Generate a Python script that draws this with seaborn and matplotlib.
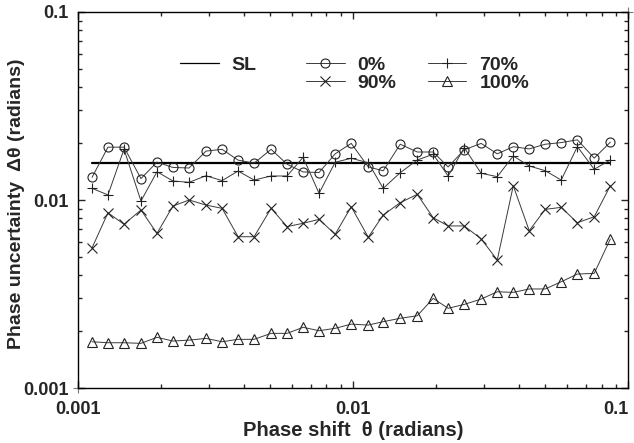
import numpy as np
import pandas as pd
import seaborn as sns
import matplotlib.pyplot as plt
from matplotlib.lines import Line2D

# phase shift values (radians)
theta = [0.001125, 0.001285, 0.00147, 0.001694, 0.001937, 0.002214, 0.002534,
         0.002919, 0.00334, 0.003819, 0.004365, 0.005034, 0.005754, 0.006577,
         0.007518, 0.008604, 0.00984, 0.01135, 0.01286, 0.01483, 0.0171,
         0.01954, 0.02214, 0.02534, 0.02919, 0.0334, 0.03819, 0.04365,
         0.0499, 0.05704, 0.0653, 0.0752, 0.08604]

sl_level = 0.0158

unc_0 = [0.0132, 0.0191, 0.0191, 0.0130, 0.0159, 0.0149, 0.0148, 0.0182, 0.0186,
         0.0163, 0.0157, 0.0186, 0.0155, 0.0141, 0.0140, 0.0176, 0.0200, 0.0150,
         0.0143, 0.0198, 0.0180, 0.0180, 0.0150, 0.0185, 0.0200, 0.0176, 0.0192,
         0.0187, 0.0198, 0.0202, 0.0209, 0.0167, 0.0203]

unc_70 = [0.01154, 0.01064, 0.01862, 0.00988, 0.01414, 0.01262, 0.01242, 0.01346,
          0.01268, 0.01426, 0.01277, 0.01342, 0.01342, 0.01687, 0.01086, 0.01588,
          0.01667, 0.01579, 0.01154, 0.01397, 0.01633, 0.0175, 0.01342, 0.01898,
          0.01387, 0.01331, 0.01714, 0.01517, 0.01432, 0.01277, 0.01922, 0.01457,
          0.01633]

unc_90 = [0.00557, 0.00855, 0.00743, 0.00885, 0.00665, 0.00929, 0.0100, 0.0094,
          0.00903, 0.00638, 0.00638, 0.00903, 0.00722, 0.00752, 0.00789, 0.00657,
          0.00921, 0.00634, 0.00832, 0.00968, 0.01072, 0.00805, 0.00728, 0.00728,
          0.00621, 0.0048, 0.01191, 0.00687, 0.00892, 0.00914, 0.00757, 0.00815,
          0.01191]

unc_100 = [0.001763, 0.001742, 0.001742, 0.001729, 0.001862, 0.001778, 0.001799,
           0.001837, 0.001763, 0.001816, 0.001816, 0.001954, 0.001954, 0.002104,
           0.002018, 0.002078, 0.002188, 0.002163, 0.002254, 0.00235, 0.002424,
           0.003, 0.002655, 0.002786, 0.002974, 0.003251, 0.003228, 0.003365,
           0.003365, 0.003675, 0.004039, 0.004073, 0.006209]

# stray markers at the plot corners
corner_x = [0.001, 0.1]
corner_y = [0.001, 0.1]

sns.set_style("ticks")
plt.rcParams['font.family'] = ['Liberation Sans', 'DejaVu Sans']
plt.rcParams['font.weight'] = 'bold'

fig = plt.figure(figsize=(6.34, 4.43), dpi=100)
ax = fig.add_axes([0.123, 0.124, 0.868, 0.849])

line_kw = dict(color='#3a3a3a', linewidth=0.7, markeredgecolor='#222222',
               markeredgewidth=0.8)

sns.lineplot(x=[theta[0], theta[-1]], y=[sl_level, sl_level], ax=ax,
             color='black', linewidth=1.6)
sns.lineplot(x=theta, y=unc_0, ax=ax, marker='o', markersize=6.5,
             markerfacecolor='none', **line_kw)
sns.lineplot(x=theta, y=unc_70, ax=ax, marker='+', markersize=7.5, **line_kw)
sns.lineplot(x=theta, y=unc_90, ax=ax, marker='x', markersize=6.5, **line_kw)
sns.lineplot(x=theta, y=unc_100, ax=ax, marker='^', markersize=7,
             markerfacecolor='none', **line_kw)
ax.plot(corner_x, corner_y, linestyle='none', marker='+', markersize=7,
        color='#777777', markeredgewidth=0.8, clip_on=False)

ax.set_xscale('log')
ax.set_yscale('log')
ax.set_xlim(0.001, 0.1)
ax.set_ylim(0.001, 0.1)
ax.set_xticks([0.001, 0.01, 0.1])
ax.set_xticklabels(['0.001', '0.01', '0.1'])
ax.set_yticks([0.001, 0.01, 0.1])
ax.set_yticklabels(['0.001', '0.01', '0.1'])
ax.tick_params(which='both', direction='in', top=True, right=True,
               labelsize=13, width=1)
ax.tick_params(which='major', length=5)
ax.tick_params(which='minor', length=3)
ax.tick_params(axis='x', which='both', pad=9)
ax.tick_params(axis='y', which='both', pad=7)
ax.get_xticklabels()[-1].set_horizontalalignment('right')
for s in ax.spines.values():
    s.set_linewidth(1.0)
    s.set_color('black')

ax.set_xlabel('Phase shift  θ (radians)', fontsize=14.5, fontweight='bold')
ax.set_ylabel('Phase uncertainty  Δθ (radians)', fontsize=14,
              fontweight='bold')
ax.xaxis.set_label_coords(0.5, -0.088)
ax.yaxis.set_label_coords(-0.096, 0.49)

def h(marker=None, lw=0.7, color='#3a3a3a', ms=6.5):
    return Line2D([], [], color=color, linewidth=lw, marker=marker,
                  markersize=ms, markerfacecolor='none',
                  markeredgecolor='#222222', markeredgewidth=0.8)

blank = Line2D([], [], linestyle='none')
handles = [h(lw=0.9, color='black'), blank, h('o'), h('x'), h('+', ms=7.5), h('^', ms=7)]
labels = ['SL', ' ' * 8, '0%', '90%', '70%', '100%']
ax.legend(handles, labels, ncol=3, frameon=False, loc='upper left',
          bbox_to_anchor=(0.153, 0.928), fontsize=14, handlelength=2.0,
          columnspacing=1.6, labelspacing=0.0, handletextpad=0.67,
          borderpad=0.4)

fig.savefig('out.png', dpi=100)
